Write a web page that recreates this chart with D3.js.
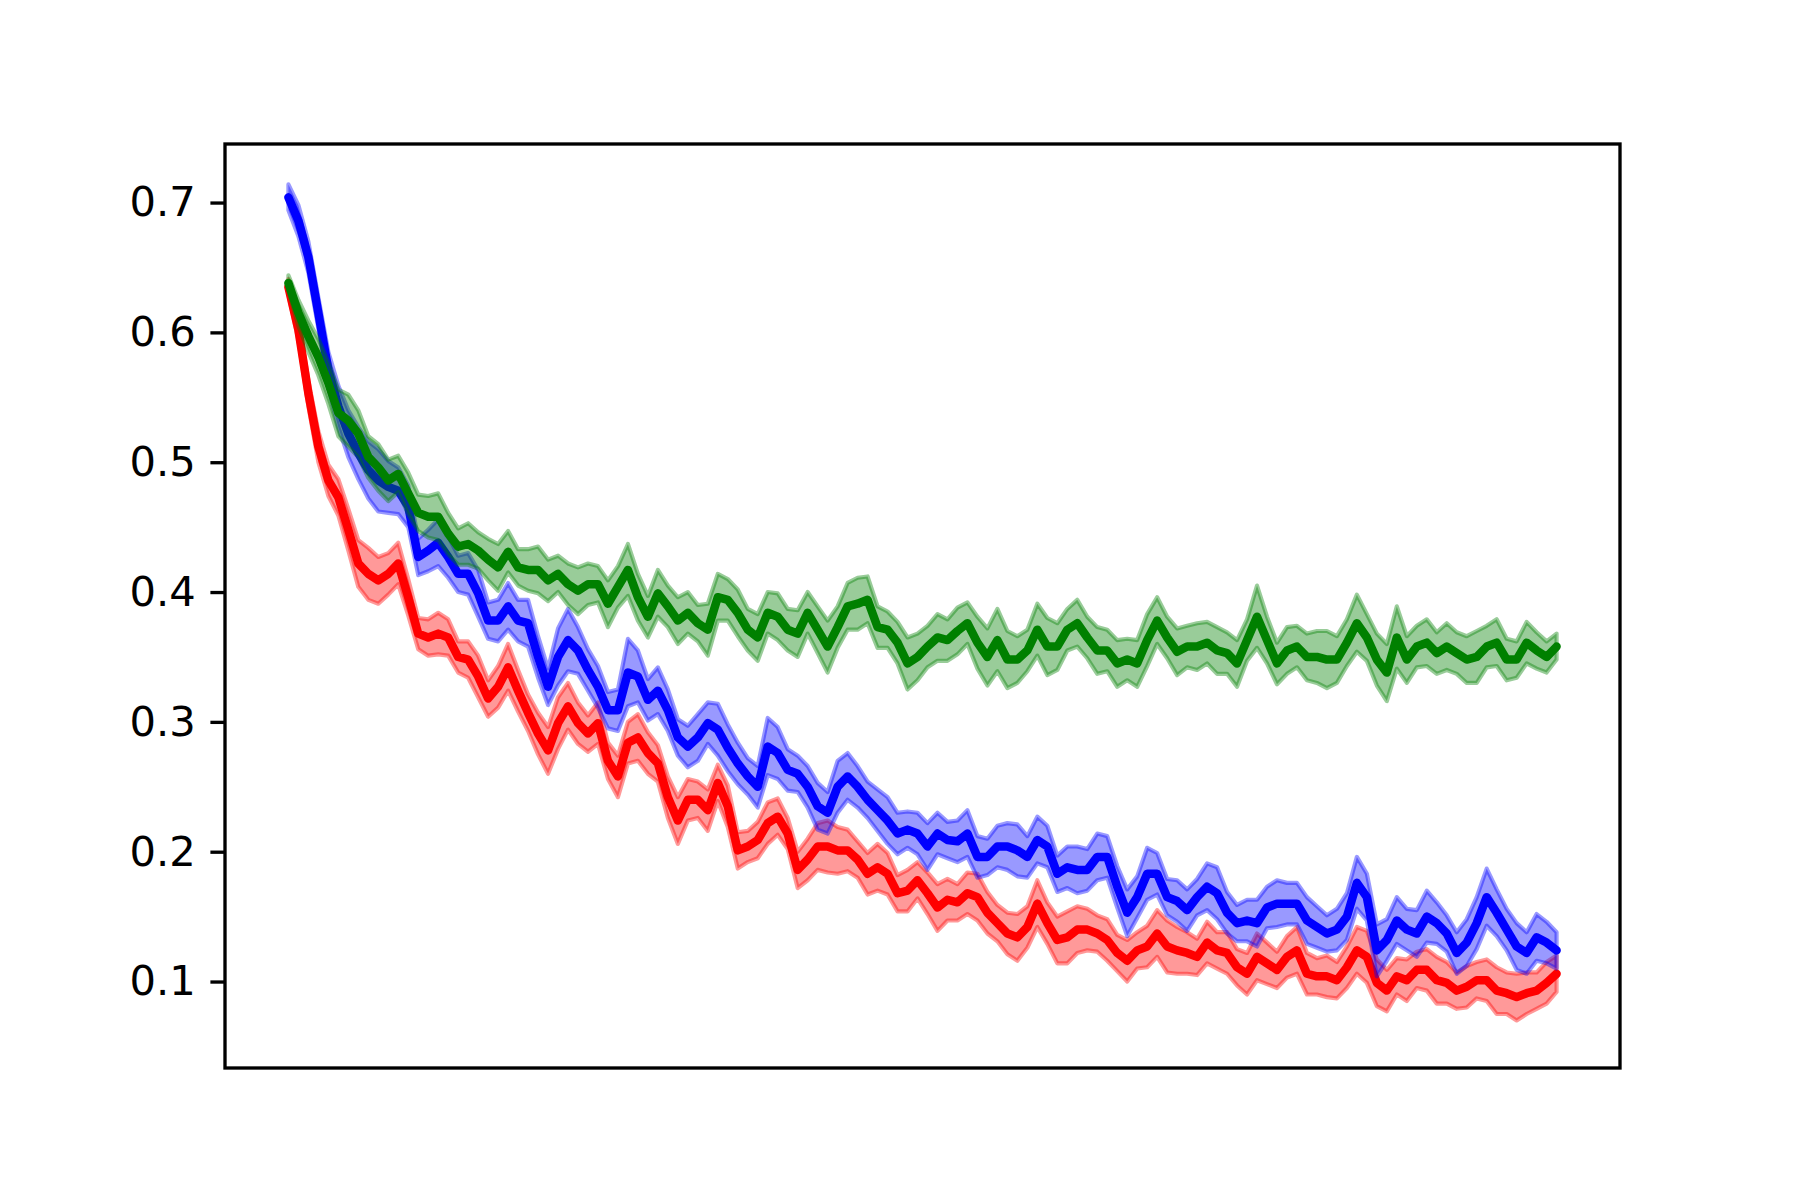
<!DOCTYPE html>
<html>
<head>
<meta charset="utf-8">
<script src="https://cdn.jsdelivr.net/npm/d3@7"></script>
<style>
  html, body { margin: 0; padding: 0; background: #ffffff; }
  svg { display: block; }
</style>
</head>
<body>
<svg id="chart" width="1800" height="1200"></svg>
<script>
// ---- data ----
const yTicks = [0.1, 0.2, 0.3, 0.4, 0.5, 0.6, 0.7];
const yTickLabels = ["0.1", "0.2", "0.3", "0.4", "0.5", "0.6", "0.7"];

const redMean = [0.635,0.602,0.553,0.512,0.486,0.473,0.448,0.422,0.414,0.409,0.414,0.422,0.396,0.368,0.365,0.368,0.365,0.350,0.348,0.335,0.318,0.327,0.342,0.324,0.307,0.291,0.278,0.299,0.312,0.299,0.291,0.299,0.270,0.258,0.284,0.288,0.276,0.268,0.242,0.224,0.240,0.240,0.232,0.253,0.235,0.201,0.204,0.209,0.222,0.227,0.214,0.186,0.194,0.204,0.204,0.201,0.201,0.194,0.183,0.188,0.183,0.168,0.170,0.178,0.168,0.157,0.163,0.161,0.168,0.165,0.153,0.145,0.137,0.134,0.142,0.160,0.145,0.132,0.134,0.140,0.140,0.137,0.132,0.122,0.116,0.124,0.127,0.137,0.127,0.124,0.122,0.119,0.130,0.124,0.122,0.111,0.106,0.119,0.114,0.109,0.119,0.124,0.106,0.104,0.104,0.101,0.111,0.124,0.119,0.099,0.093,0.104,0.101,0.109,0.109,0.101,0.099,0.093,0.096,0.101,0.101,0.093,0.091,0.088,0.091,0.093,0.099,0.106];
const redSpread = [0.006,0.008,0.010,0.012,0.012,0.014,0.016,0.018,0.020,0.018,0.016,0.016,0.014,0.012,0.014,0.016,0.014,0.012,0.014,0.016,0.014,0.016,0.018,0.016,0.014,0.016,0.018,0.020,0.018,0.016,0.014,0.016,0.014,0.016,0.016,0.018,0.016,0.014,0.016,0.018,0.016,0.014,0.016,0.014,0.016,0.014,0.012,0.014,0.016,0.014,0.012,0.014,0.016,0.018,0.020,0.018,0.016,0.014,0.016,0.018,0.016,0.014,0.016,0.014,0.016,0.018,0.016,0.014,0.016,0.018,0.016,0.014,0.016,0.018,0.016,0.018,0.016,0.018,0.020,0.018,0.016,0.014,0.016,0.014,0.016,0.014,0.016,0.018,0.020,0.018,0.016,0.014,0.016,0.014,0.016,0.014,0.016,0.018,0.016,0.014,0.016,0.018,0.016,0.014,0.016,0.014,0.016,0.018,0.020,0.018,0.016,0.014,0.016,0.014,0.016,0.018,0.016,0.014,0.016,0.014,0.016,0.018,0.016,0.018,0.016,0.014,0.016,0.014];

const blueMean = [0.704,0.686,0.658,0.615,0.571,0.543,0.522,0.507,0.494,0.486,0.481,0.478,0.466,0.427,0.432,0.438,0.427,0.414,0.414,0.399,0.378,0.378,0.389,0.378,0.376,0.350,0.327,0.350,0.363,0.355,0.340,0.327,0.309,0.309,0.338,0.335,0.317,0.324,0.309,0.288,0.281,0.288,0.299,0.294,0.280,0.268,0.258,0.250,0.281,0.276,0.263,0.260,0.250,0.235,0.230,0.250,0.258,0.250,0.240,0.232,0.224,0.214,0.217,0.214,0.204,0.214,0.209,0.208,0.214,0.196,0.196,0.204,0.204,0.201,0.196,0.209,0.204,0.183,0.188,0.186,0.186,0.196,0.196,0.173,0.153,0.165,0.183,0.183,0.165,0.162,0.155,0.165,0.173,0.168,0.153,0.145,0.147,0.145,0.157,0.160,0.160,0.160,0.147,0.142,0.137,0.140,0.150,0.176,0.165,0.124,0.132,0.147,0.140,0.137,0.150,0.145,0.137,0.122,0.130,0.145,0.165,0.153,0.140,0.127,0.122,0.134,0.130,0.124];
const blueSpread = [0.010,0.012,0.012,0.012,0.014,0.016,0.018,0.020,0.022,0.024,0.020,0.018,0.016,0.014,0.016,0.018,0.016,0.014,0.016,0.018,0.014,0.016,0.018,0.016,0.018,0.016,0.014,0.022,0.024,0.018,0.016,0.016,0.014,0.016,0.026,0.020,0.016,0.018,0.016,0.014,0.016,0.018,0.016,0.020,0.018,0.016,0.014,0.016,0.022,0.020,0.016,0.014,0.016,0.018,0.016,0.020,0.018,0.016,0.014,0.016,0.018,0.016,0.014,0.016,0.018,0.016,0.014,0.016,0.018,0.016,0.014,0.016,0.018,0.020,0.016,0.018,0.016,0.014,0.016,0.018,0.016,0.018,0.016,0.016,0.018,0.016,0.020,0.016,0.014,0.016,0.016,0.014,0.018,0.020,0.016,0.014,0.016,0.018,0.016,0.018,0.016,0.016,0.018,0.016,0.014,0.016,0.018,0.020,0.018,0.020,0.016,0.018,0.016,0.018,0.020,0.016,0.014,0.016,0.018,0.020,0.022,0.018,0.016,0.018,0.016,0.018,0.016,0.014];

const greenMean = [0.638,0.615,0.597,0.581,0.561,0.538,0.532,0.522,0.504,0.496,0.486,0.491,0.476,0.461,0.458,0.458,0.445,0.435,0.437,0.432,0.425,0.419,0.431,0.419,0.417,0.417,0.409,0.414,0.406,0.401,0.406,0.406,0.391,0.404,0.417,0.396,0.381,0.399,0.389,0.378,0.384,0.376,0.371,0.396,0.394,0.384,0.371,0.365,0.384,0.381,0.371,0.368,0.384,0.371,0.358,0.373,0.389,0.391,0.394,0.373,0.371,0.361,0.345,0.350,0.358,0.365,0.363,0.370,0.376,0.361,0.350,0.363,0.348,0.348,0.355,0.371,0.358,0.358,0.371,0.376,0.365,0.355,0.355,0.345,0.348,0.345,0.363,0.378,0.365,0.354,0.358,0.358,0.361,0.355,0.353,0.345,0.363,0.381,0.363,0.345,0.355,0.358,0.350,0.350,0.348,0.348,0.361,0.376,0.365,0.348,0.338,0.365,0.348,0.358,0.361,0.353,0.358,0.353,0.348,0.350,0.358,0.361,0.348,0.348,0.361,0.355,0.350,0.358];
const greenSpread = [0.006,0.010,0.012,0.014,0.016,0.018,0.020,0.018,0.016,0.018,0.016,0.014,0.016,0.014,0.016,0.018,0.016,0.014,0.016,0.014,0.016,0.018,0.016,0.014,0.016,0.018,0.016,0.014,0.016,0.018,0.016,0.014,0.018,0.016,0.020,0.018,0.016,0.018,0.016,0.018,0.016,0.014,0.020,0.018,0.016,0.018,0.016,0.018,0.016,0.018,0.016,0.018,0.016,0.018,0.020,0.016,0.018,0.020,0.018,0.016,0.014,0.016,0.020,0.018,0.016,0.018,0.016,0.018,0.016,0.020,0.022,0.024,0.022,0.018,0.016,0.020,0.022,0.018,0.016,0.018,0.016,0.018,0.016,0.018,0.016,0.018,0.020,0.018,0.016,0.018,0.016,0.018,0.016,0.018,0.016,0.018,0.016,0.024,0.018,0.016,0.018,0.016,0.018,0.020,0.022,0.018,0.018,0.022,0.018,0.020,0.022,0.024,0.018,0.016,0.018,0.016,0.018,0.016,0.018,0.020,0.016,0.018,0.016,0.014,0.016,0.014,0.012,0.010];

const seriesOrder = [
  { name: "red",   color: "#ff0000", mean: redMean,   spread: redSpread },
  { name: "blue",  color: "#0000ff", mean: blueMean,  spread: blueSpread },
  { name: "green", color: "#008000", mean: greenMean, spread: greenSpread }
];

// ---- layout ----
const W = 1800, H = 1200;
const axL = 225, axR = 1620, axT = 144, axB = 1068;
const n = redMean.length;
const svg = d3.select("#chart");

const x = d3.scaleLinear()
  .domain([-(n - 1) * 0.05, (n - 1) * 1.05])
  .range([axL, axR]);
const y = d3.scaleLinear()
  .domain([0.0334, 0.7451])
  .range([axB, axT]);

svg.append("defs").append("clipPath").attr("id", "axclip")
  .append("rect").attr("x", axL).attr("y", axT).attr("width", axR - axL).attr("height", axB - axT);

const plot = svg.append("g").attr("clip-path", "url(#axclip)");

seriesOrder.forEach(s => {
  const idx = d3.range(s.mean.length);
  const area = d3.area()
    .x(i => x(i))
    .y0(i => y(s.mean[i] - s.spread[i]))
    .y1(i => y(s.mean[i] + s.spread[i]));
  plot.append("path")
    .datum(idx)
    .attr("d", area)
    .attr("fill", s.color)
    .attr("fill-opacity", 0.4)
    .attr("stroke", s.color)
    .attr("stroke-opacity", 0.4)
    .attr("stroke-width", 4.17)
    .attr("stroke-linejoin", "round");
  const line = d3.line()
    .x(i => x(i))
    .y(i => y(s.mean[i]));
  plot.append("path")
    .datum(idx)
    .attr("d", line)
    .attr("fill", "none")
    .attr("stroke", s.color)
    .attr("stroke-width", 8.5)
    .attr("stroke-linejoin", "round")
    .attr("stroke-linecap", "round");
});

// ---- y axis ----
const yAxis = d3.axisLeft(y)
  .tickValues(yTicks)
  .tickFormat((d, i) => yTickLabels[i])
  .tickSize(14.6)
  .tickPadding(14.6);
const gy = svg.append("g")
  .attr("transform", `translate(${axL},0)`)
  .call(yAxis);
gy.select(".domain").remove();
gy.selectAll(".tick line").attr("stroke", "#000").attr("stroke-width", 3.33);
gy.selectAll(".tick text")
  .attr("fill", "#000")
  .attr("font-family", "'DejaVu Sans', sans-serif")
  .attr("font-size", 41.67);

// ---- frame (spines) ----
svg.append("rect")
  .attr("x", axL).attr("y", axT)
  .attr("width", axR - axL).attr("height", axB - axT)
  .attr("fill", "none")
  .attr("stroke", "#000")
  .attr("stroke-width", 3.33)
  .attr("stroke-linejoin", "miter");
</script>
</body>
</html>
